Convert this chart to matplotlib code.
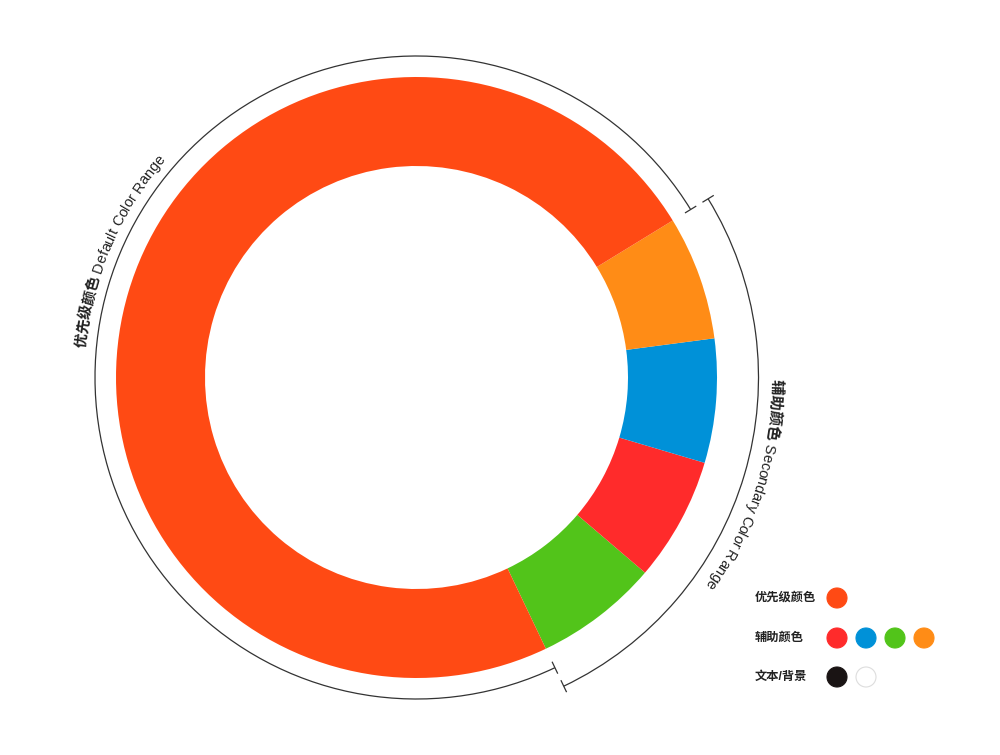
import math

import matplotlib
matplotlib.use("Agg")
import matplotlib.pyplot as plt
from matplotlib.font_manager import FontProperties
from matplotlib.patches import Arc, Circle

FAMILY = ["Liberation Sans", "Noto Sans CJK SC"]
plt.rcParams["font.family"] = FAMILY

# ring data: counterclockwise from the lower right boundary
ring_values = [1, 1, 1, 1, 11]
ring_colors = ["#52C41A", "#FF2B2B", "#0091D8", "#FF8C16", "#FF4A14"]
ring_start = -64.5

# curved labels
primary_label = ("优先级颜色", " Default Color Range")
secondary_label = ("辅助颜色", " Secondary Color Range")

# legend
legend_labels = ["优先级颜色", "辅助颜色", "文本/背景"]
legend_colors = [["#FF4A14"],
                 ["#FF2B2B", "#0091D8", "#52C41A", "#FF8C16"],
                 ["#1A1414", "#FFFFFF"]]

# layout (pixels, y up)
W, H = 1000, 755
CX, CY = 416.5, 377.5
R_OUT, R_IN = 300.5, 211.5
R_ARC1, R_ARC2 = 321.5, 342.0
TEXT_COLOR = "#222222"
LINE_COLOR = "#333333"


def polar(r, deg):
  a = math.radians(deg)
  return CX + r * math.cos(a), CY + r * math.sin(a)


def bracket(ax, r, t1, t2, tick=6):
  ax.add_patch(Arc((CX, CY), 2 * r, 2 * r, theta1=t1, theta2=t2,
                   color=LINE_COLOR, lw=0.9))
  for t in (t1, t2):
    x0, y0 = polar(r - tick, t)
    x1, y1 = polar(r + tick, t)
    ax.plot([x0, x1], [y0, y1], color=LINE_COLOR, lw=0.9)


# Place characters one by one along a circle, reading clockwise
def curved_text(ax, renderer, parts, r, mid):
  chars = []
  offset = 0
  for s, size, weight in parts:
    fp = FontProperties(family=FAMILY, size=size, weight=weight)
    def adv(k):
      if k == 0:
        return 0
      w1 = renderer.get_text_width_height_descent(s[:k] + "x", fp, ismath=False)[0]
      w0 = renderer.get_text_width_height_descent("x", fp, ismath=False)[0]
      return w1 - w0
    advs = [adv(k) for k in range(len(s) + 1)]
    for i, ch in enumerate(s):
      chars.append((ch, offset + (advs[i] + advs[i + 1]) / 2, fp))
    offset += advs[-1]
  start = mid + math.degrees(offset / 2 / r)
  for ch, pos, fp in chars:
    if ch == " ":
      continue
    th = start - math.degrees(pos / r)
    x, y = polar(r, th)
    ax.text(x, y, ch, rotation=th - 90, rotation_mode="anchor",
            ha="center", va="center", fontproperties=fp, color=TEXT_COLOR)


fig = plt.figure(figsize=(10, 7.55), dpi=100)
ax = fig.add_axes([0, 0, 1, 1])
ax.pie(ring_values, colors=ring_colors, startangle=ring_start,
       counterclock=True, radius=R_OUT, center=(CX, CY),
       wedgeprops=dict(width=R_OUT - R_IN, linewidth=0))
ax.set_xlim(0, W)
ax.set_ylim(0, H)
ax.set_aspect("equal")
ax.axis("off")

# boundaries between the primary and secondary parts of the ring
total = sum(ring_values)
split = ring_start + 360.0 * sum(ring_values[:-1]) / total
bracket(ax, R_ARC1, split, ring_start + 360)
bracket(ax, R_ARC2, ring_start, split)

renderer = fig.canvas.get_renderer()
curved_text(ax, renderer, [(primary_label[0], 10.5, "bold"),
                           (primary_label[1], 10.5, "normal")], 336, 157.0)
curved_text(ax, renderer, [(secondary_label[0], 11, "bold"),
                           (secondary_label[1], 10.5, "normal")], 359, -18.0)

# legend
rows_y = [755 - 598, 755 - 638, 755 - 677]
for label, colors, y in zip(legend_labels, legend_colors, rows_y):
  ax.text(755, y, label, ha="left", va="center", fontsize=8.8,
          fontweight="bold", color=TEXT_COLOR)
  for i, c in enumerate(colors):
    edge = "#DDDDDD" if c == "#FFFFFF" else c
    ax.add_patch(Circle((837 + 29 * i, y), 10, facecolor=c,
                        edgecolor=edge, lw=0.8))

fig.savefig("out.png", dpi=100)
